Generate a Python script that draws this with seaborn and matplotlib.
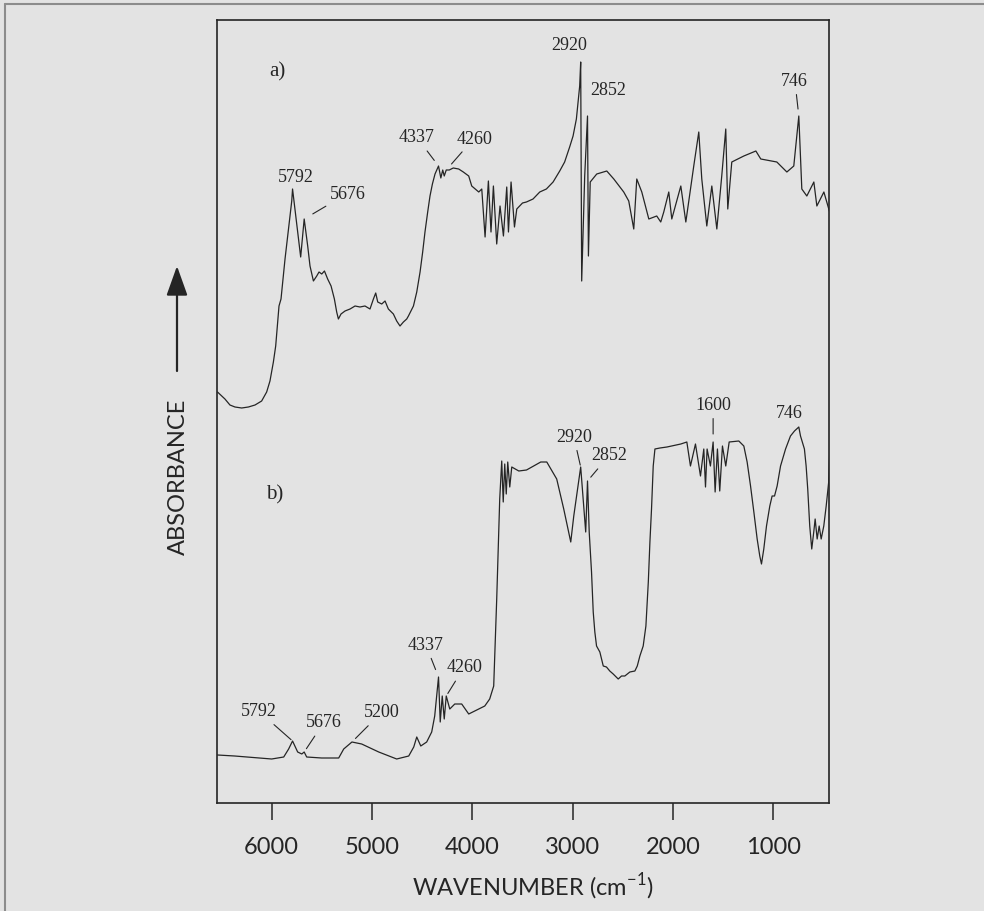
import matplotlib
matplotlib.use("Agg")
import matplotlib.pyplot as plt
import pandas as pd
import seaborn as sns
from matplotlib.lines import Line2D
from matplotlib.patches import FancyArrowPatch

# Spectrum a)
wavenumber_a = [
    6540, 6466, 6416, 6366, 6299, 6232, 6166, 6100, 6050, 6017,
    5983, 5960, 5940, 5927, 5907, 5890, 5867, 5840, 5817, 5800,
    5792, 5711, 5676, 5641, 5618, 5584, 5551, 5528, 5501, 5474,
    5442, 5408, 5375, 5352, 5335, 5309, 5269, 5219, 5169, 5120,
    5070, 5020, 4986, 4963, 4943, 4903, 4870, 4837, 4787, 4754,
    4721, 4687, 4654, 4637, 4587, 4554, 4521, 4495, 4472, 4445,
    4422, 4398, 4372, 4337, 4314, 4295, 4280, 4260, 4230, 4190,
    4136, 4090, 4036, 4006, 3936, 3906, 3873, 3840, 3814, 3790,
    3757, 3724, 3690, 3657, 3640, 3614, 3580, 3557, 3500, 3461,
    3395, 3328, 3262, 3195, 3129, 3080, 3030, 2996, 2963, 2946,
    2930, 2920, 2910, 2880, 2852, 2843, 2825, 2760, 2660, 2590,
    2491, 2441, 2391, 2361, 2311, 2241, 2162, 2122, 2092, 2042,
    2012, 1922, 1872, 1793, 1743, 1713, 1663, 1613, 1563, 1514,
    1474, 1454, 1414, 1294, 1174, 1125, 965, 865, 796, 746,
    716, 666, 596, 566, 496, 427,
]
absorbance_a = [
    4.11, 4.04, 3.98, 3.96, 3.95, 3.96, 3.98, 4.02, 4.11, 4.22,
    4.41, 4.57, 4.81, 4.97, 5.04, 5.21, 5.44, 5.67, 5.87, 6.02,
    6.14, 5.46, 5.84, 5.57, 5.37, 5.22, 5.27, 5.31, 5.29, 5.32,
    5.24, 5.17, 5.04, 4.91, 4.84, 4.89, 4.92, 4.94, 4.97, 4.96,
    4.97, 4.94, 5.04, 5.10, 5.01, 4.99, 5.02, 4.94, 4.89, 4.82,
    4.77, 4.81, 4.84, 4.87, 4.97, 5.11, 5.31, 5.51, 5.71, 5.91,
    6.07, 6.19, 6.29, 6.37, 6.25, 6.33, 6.27, 6.33, 6.33, 6.35,
    6.34, 6.31, 6.27, 6.17, 6.11, 6.14, 5.66, 6.22, 5.71, 6.17,
    5.59, 5.97, 5.67, 6.16, 5.71, 6.21, 5.76, 5.94, 6.00, 6.01,
    6.04, 6.11, 6.14, 6.21, 6.32, 6.41, 6.56, 6.67, 6.84, 7.01,
    7.17, 7.41, 5.22, 6.27, 6.87, 5.47, 6.21, 6.29, 6.32, 6.24,
    6.11, 6.02, 5.74, 6.24, 6.11, 5.84, 5.87, 5.81, 5.91, 6.11,
    5.84, 6.17, 5.81, 6.37, 6.71, 6.24, 5.77, 6.17, 5.74, 6.27,
    6.74, 5.94, 6.41, 6.47, 6.52, 6.44, 6.41, 6.31, 6.37, 6.87,
    6.14, 6.07, 6.21, 5.97, 6.11, 5.87,
]

# Spectrum b)
wavenumber_b = [
    6540, 6369, 6000, 5880, 5831, 5792, 5741, 5700, 5676, 5651,
    5502, 5332, 5282, 5200, 5103, 4933, 4754, 4634, 4584, 4554,
    4514, 4455, 4405, 4375, 4337, 4320, 4300, 4280, 4260, 4225,
    4175, 4106, 4036, 3976, 3876, 3827, 3787, 3757, 3727, 3707,
    3692, 3677, 3662, 3647, 3627, 3607, 3537, 3460, 3318, 3258,
    3159, 3089, 3019, 2989, 2920, 2890, 2870, 2852, 2835, 2812,
    2795, 2779, 2762, 2729, 2695, 2663, 2630, 2596, 2546, 2513,
    2480, 2430, 2380, 2356, 2330, 2297, 2270, 2246, 2230, 2214,
    2197, 2180, 2130, 2060, 1922, 1862, 1826, 1776, 1726, 1693,
    1676, 1660, 1627, 1600, 1580, 1557, 1534, 1507, 1474, 1440,
    1344, 1294, 1261, 1227, 1194, 1161, 1135, 1118, 1095, 1068,
    1035, 1012, 988, 962, 928, 878, 829, 789, 746, 729,
    690, 673, 657, 637, 617, 597, 583, 563, 543, 523,
    497, 473, 448, 438, 422, 415,
]
absorbance_b = [
    0.48, 0.47, 0.44, 0.46, 0.54, 0.62, 0.51, 0.49, 0.51, 0.46,
    0.45, 0.45, 0.54, 0.61, 0.59, 0.51, 0.44, 0.47, 0.56, 0.66,
    0.57, 0.61, 0.71, 0.87, 1.26, 0.81, 1.07, 0.84, 1.07, 0.94,
    0.99, 0.99, 0.89, 0.92, 0.97, 1.04, 1.17, 2.04, 3.04, 3.42,
    3.01, 3.39, 3.09, 3.41, 3.16, 3.36, 3.32, 3.33, 3.41, 3.41,
    3.24, 2.94, 2.61, 2.87, 3.36, 2.97, 2.71, 3.22, 2.71, 2.31,
    1.91, 1.71, 1.57, 1.51, 1.37, 1.36, 1.32, 1.29, 1.24, 1.27,
    1.27, 1.31, 1.32, 1.37, 1.47, 1.57, 1.77, 2.21, 2.61, 2.94,
    3.37, 3.54, 3.55, 3.56, 3.59, 3.61, 3.37, 3.59, 3.27, 3.54,
    3.16, 3.54, 3.37, 3.61, 3.11, 3.54, 3.12, 3.57, 3.37, 3.61,
    3.62, 3.57, 3.41, 3.17, 2.91, 2.64, 2.47, 2.39, 2.54, 2.77,
    2.97, 3.07, 3.07, 3.17, 3.37, 3.54, 3.67, 3.72, 3.76, 3.67,
    3.54, 3.37, 3.14, 2.77, 2.54, 2.71, 2.84, 2.64, 2.77, 2.64,
    2.77, 2.97, 3.21, 3.51, 3.04, 2.51,
]

# Labelled bands
peaks_a = [5792, 5676, 4337, 4260, 2920, 2852, 746]
peaks_b = [5792, 5676, 5200, 4337, 4260, 2920, 2852, 1600, 746]
x_ticks = [6000, 5000, 4000, 3000, 2000, 1000]

assert len(wavenumber_a) == len(absorbance_a)
assert len(wavenumber_b) == len(absorbance_b)

sns.set_theme(style="white")
plt.rcParams["font.family"] = ["Lato", "DejaVu Sans"]
plt.rcParams["mathtext.fontset"] = "custom"
plt.rcParams["mathtext.rm"] = "Lato"

BG = "#e3e3e3"
INK = "#252525"
W, H = 984, 912

fig = plt.figure(figsize=(W / 100, H / 100), dpi=100, facecolor=BG)
ax = fig.add_axes([217.3 / W, 108 / H, 611.7 / W, 783.3 / H])
ax.set_facecolor(BG)

df_a = pd.DataFrame({"wavenumber": wavenumber_a, "absorbance": absorbance_a})
df_b = pd.DataFrame({"wavenumber": wavenumber_b, "absorbance": absorbance_b})
for df in (df_a, df_b):
    sns.lineplot(data=df, x="wavenumber", y="absorbance", ax=ax,
                 estimator=None, sort=False, color=INK, linewidth=0.9)

ax.set_xlim(6542, 445)
ax.set_ylim(0, 7.833)
ax.set_xlabel("")
ax.set_ylabel("")
ax.set_xticks(x_ticks)
ax.set_xticklabels([str(t) for t in x_ticks])
ax.set_yticks([])
ax.tick_params(axis="x", bottom=True, direction="out", length=12.5,
               width=1.1, color=INK, labelsize=17, pad=11, labelcolor=INK)
for s in ax.spines.values():
    s.set_color(INK)
    s.set_linewidth(1.2)

serif = ["Liberation Serif", "DejaVu Serif"]


def label_peak(wn, absorb, w, dx, dy, gap=None):
    y = dict(zip(wn, absorb))[w]
    kw = dict(xy=(w, y), xycoords="data", xytext=(dx, dy),
              textcoords="offset pixels", ha="center", va="center",
              fontsize=13, family=serif, color=INK)
    if gap is not None:
        kw["arrowprops"] = dict(arrowstyle="-", color=INK, lw=0.8,
                                shrinkA=2, shrinkB=gap * 0.72)
    ax.annotate(str(w), **kw)


# text offset (px) and leader gap (px) for each band
layout_a = {5792: (3, 13, None), 5676: (44, 26, 10), 4337: (-22, 29, 7),
            4260: (28, 32, 8), 2920: (-12, 18, None), 2852: (21, 27, None),
            746: (-4, 36, 7)}
layout_b = {5792: (-34, 30, 2), 5676: (20, 30, 4), 5200: (30, 30, 5),
            4337: (-13, 33, 8), 4260: (18, 29, 3), 2920: (-7, 31, 2),
            2852: (22, 26, 5), 1600: (0, 38, 8), 746: (-9, 15, None)}
for p in peaks_a:
    label_peak(wavenumber_a, absorbance_a, p, *layout_a[p])
for p in peaks_b:
    label_peak(wavenumber_b, absorbance_b, p, *layout_b[p])

ax.text(277 / W, 1 - 72 / H, "a)", transform=fig.transFigure, ha="center",
        va="center", fontsize=15, family=serif, color=INK)
ax.text(275 / W, 1 - 495 / H, "b)", transform=fig.transFigure, ha="center",
        va="center", fontsize=15, family=serif, color=INK)

fig.text(533 / W, 1 - 887 / H, r"WAVENUMBER (cm$^{\mathregular{-1}}$)",
         ha="center", va="center", fontsize=17, color=INK)
fig.text(178 / W, 1 - 477 / H, "ABSORBANCE", rotation=90, ha="center",
         va="center", fontsize=17, color=INK)
fig.add_artist(FancyArrowPatch(
    (177 / W, 1 - 372 / H), (177 / W, 1 - 267 / H),
    transform=fig.transFigure, arrowstyle="-|>,head_length=14,head_width=5",
    mutation_scale=1.3, color=INK, lw=1.6, shrinkA=0, shrinkB=0))

# thin frame around the plate
fig.add_artist(Line2D([5 / W, 5 / W], [0, 1 - 5 / H], transform=fig.transFigure,
                      color="#8c8c8c", lw=1.5))
fig.add_artist(Line2D([5 / W, 1], [1 - 5 / H, 1 - 5 / H], transform=fig.transFigure,
                      color="#8c8c8c", lw=1.5))

fig.savefig("out.png", dpi=100, facecolor=BG)
